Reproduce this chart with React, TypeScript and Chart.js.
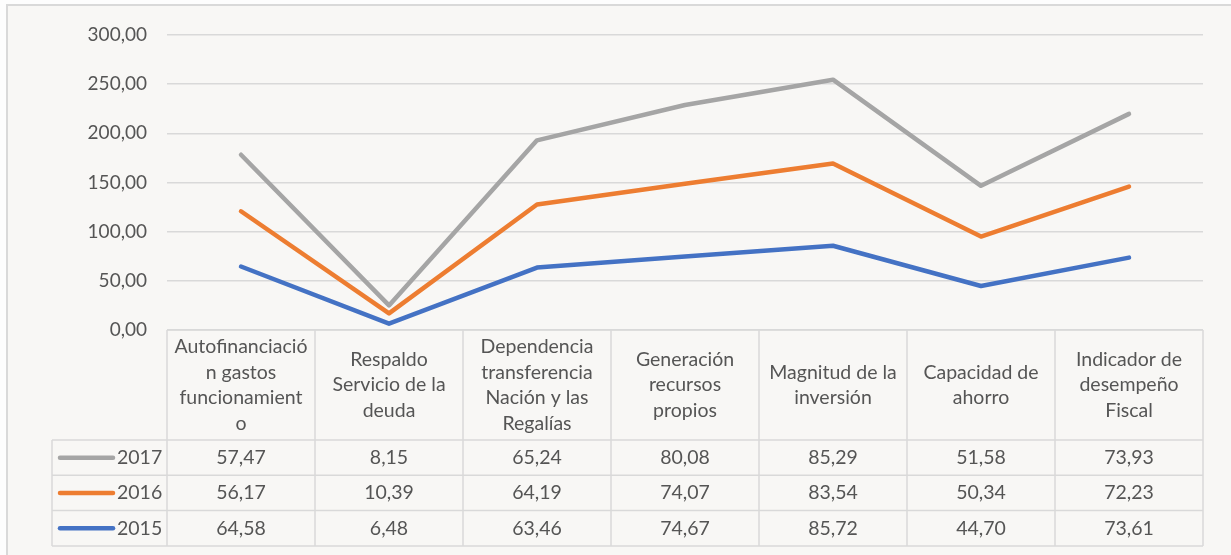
import React, { useEffect, useRef } from "react";
import { Chart, registerables } from "chart.js";

Chart.register(...registerables);

const categories: string[][] = [
  ["Autofinanciació", "n gastos", "funcionamient", "o"],
  ["Respaldo", "Servicio de la", "deuda"],
  ["Dependencia", "transferencia", "Nación y las", "Regalías"],
  ["Generación", "recursos", "propios"],
  ["Magnitud de la", "inversión"],
  ["Capacidad de", "ahorro"],
  ["Indicador de", "desempeño", "Fiscal"],
];

const values2015 = [64.58, 6.48, 63.46, 74.67, 85.72, 44.7, 73.61];
const values2016 = [56.17, 10.39, 64.19, 74.07, 83.54, 50.34, 72.23];
const values2017 = [57.47, 8.15, 65.24, 80.08, 85.29, 51.58, 73.93];

const seriesNames = ["2015", "2016", "2017"];
const seriesColors = ["#4472C4", "#ED7D31", "#A5A5A5"];

const yMin = 0;
const yMax = 300;
const yStep = 50;

const FONT = "Lato, 'Open Sans', sans-serif";
const TEXT = "#555555";
const GRID = "#D9D9D9";
const BG = "#F8F7F5";

const fmt = (v: number) => v.toFixed(2).replace(".", ",");

const tablePlugin = {
  id: "dataTable",
  beforeDraw(chart: any) {
    const { ctx, width, height } = chart;
    ctx.save();
    ctx.fillStyle = "#FDFDFD";
    ctx.fillRect(0, 0, width, height);
    ctx.fillStyle = BG;
    ctx.fillRect(7, 5, width - 7, height - 5);
    ctx.strokeStyle = GRID;
    ctx.lineWidth = 2;
    ctx.beginPath();
    ctx.moveTo(7, height);
    ctx.lineTo(7, 5);
    ctx.lineTo(width, 5);
    ctx.stroke();
    ctx.restore();
  },
  afterDraw(chart: any) {
    const { ctx, chartArea } = chart;
    const xs = chart.scales.x;
    const n = categories.length;
    const half = (xs.getPixelForValue(1) - xs.getPixelForValue(0)) / 2;
    const left = xs.getPixelForValue(0) - half;
    const right = xs.getPixelForValue(n - 1) + half;
    const top = chartArea.bottom;
    const headerH = 110;
    const rowH = 35.3;
    const legendLeft = 52;
    const rowsTop = top + headerH;
    const bottom = rowsTop + rowH * 3;

    ctx.save();
    ctx.strokeStyle = GRID;
    ctx.lineWidth = 1.5;
    ctx.beginPath();
    ctx.moveTo(left, top);
    ctx.lineTo(right, top);
    for (let r = 0; r <= 3; r++) {
      const y = rowsTop + r * rowH;
      ctx.moveTo(legendLeft, y);
      ctx.lineTo(right, y);
    }
    for (let i = 0; i <= n; i++) {
      const x = left + i * half * 2;
      ctx.moveTo(x, top);
      ctx.lineTo(x, bottom);
    }
    ctx.moveTo(legendLeft, rowsTop);
    ctx.lineTo(legendLeft, bottom);
    ctx.stroke();

    ctx.fillStyle = TEXT;
    ctx.font = `19.5px ${FONT}`;
    ctx.textAlign = "center";
    ctx.textBaseline = "middle";
    const lh = 25.5;
    categories.forEach((lines, i) => {
      const cx = xs.getPixelForValue(i);
      const cy = top + headerH / 2;
      const start = cy - ((lines.length - 1) * lh) / 2;
      lines.forEach((ln, k) => ctx.fillText(ln, cx, start + k * lh));
    });

    const rows = [
      { name: seriesNames[2], color: seriesColors[2], vals: values2017 },
      { name: seriesNames[1], color: seriesColors[1], vals: values2016 },
      { name: seriesNames[0], color: seriesColors[0], vals: values2015 },
    ];
    rows.forEach((row, r) => {
      const cy = rowsTop + r * rowH + rowH / 2;
      ctx.strokeStyle = row.color;
      ctx.lineWidth = 4.5;
      ctx.lineCap = "round";
      ctx.beginPath();
      ctx.moveTo(60, cy);
      ctx.lineTo(113, cy);
      ctx.stroke();
      ctx.fillStyle = TEXT;
      ctx.textAlign = "left";
      ctx.fillText(row.name, 117, cy);
      ctx.textAlign = "center";
      row.vals.forEach((v, i) => ctx.fillText(fmt(v), xs.getPixelForValue(i), cy));
    });
    ctx.restore();
  },
};

export default function App() {
  const ref = useRef<HTMLCanvasElement | null>(null);
  useEffect(() => {
    if (!ref.current) return;
    const series = [values2015, values2016, values2017];
    const chart = new Chart(ref.current, {
      type: "line",
      data: {
        labels: categories,
        datasets: series.map((vals, i) => ({
          label: seriesNames[i],
          data: vals,
          borderColor: seriesColors[i],
          backgroundColor: seriesColors[i],
          borderWidth: 4.5,
          borderCapStyle: "round",
          borderJoinStyle: "round",
          pointRadius: 0,
          fill: false,
          tension: 0,
        })),
      },
      options: {
        responsive: false,
        animation: false,
        layout: { padding: { left: 0, right: 28, top: 35, bottom: 225 } },
        plugins: { legend: { display: false }, tooltip: { enabled: false } },
        scales: {
          x: { display: false, offset: true },
          y: {
            stacked: true,
            min: yMin,
            max: yMax,
            afterFit: (s: any) => {
              s.width = 167;
            },
            ticks: {
              stepSize: yStep,
              padding: 20,
              color: TEXT,
              font: { family: FONT, size: 19 },
              callback: (v: any) => fmt(Number(v)),
            },
            grid: { color: GRID, lineWidth: 1.5, drawTicks: false },
            border: { display: false },
          },
        },
      },
      plugins: [tablePlugin],
    } as any);
    return () => chart.destroy();
  }, []);
  return (
    <div style={{ position: "absolute", left: 0, top: 0, width: 1231, height: 555 }}>
      <canvas ref={ref} width={1231} height={555} style={{ display: "block" }} />
    </div>
  );
}
